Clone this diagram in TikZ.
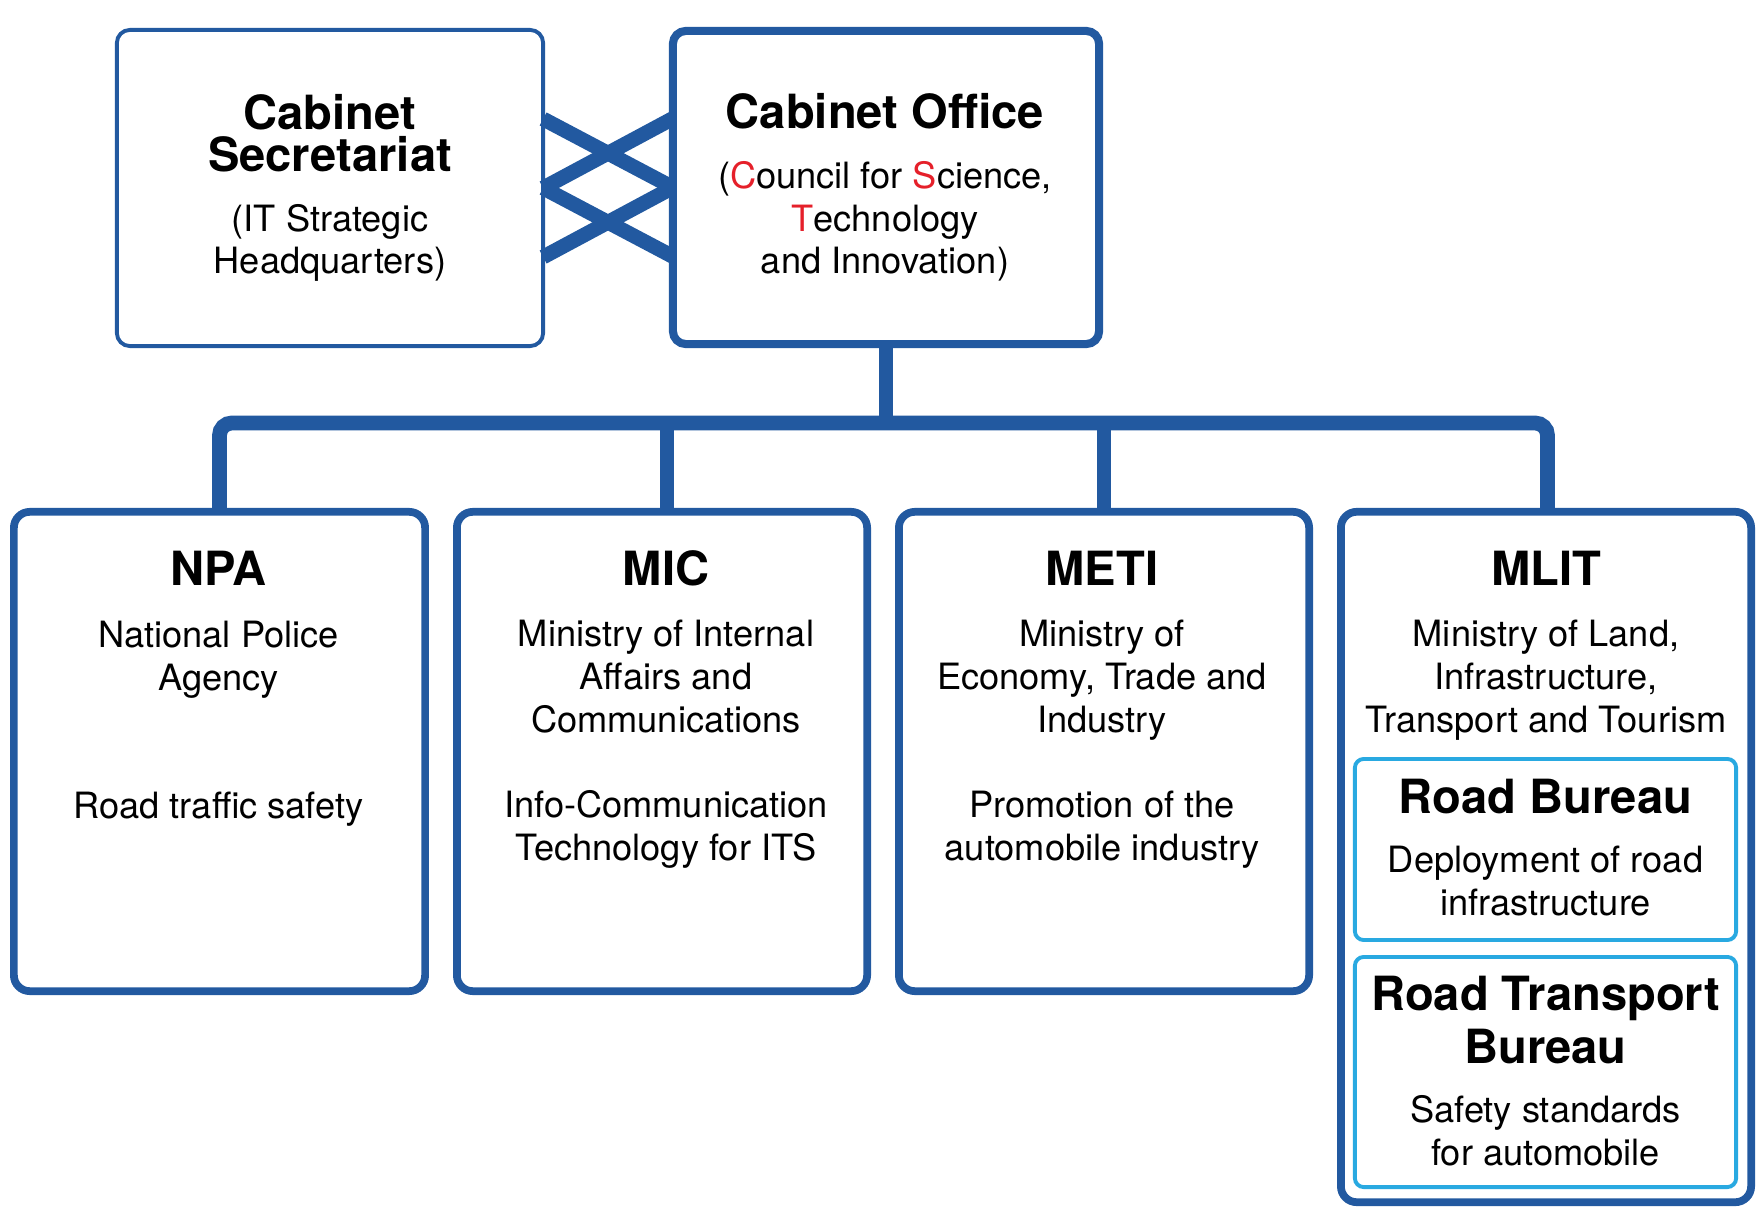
\documentclass[tikz,border=0pt]{standalone}
\usepackage{fontspec}
\setmainfont{TeX Gyre Heros}
\definecolor{itsblue}{HTML}{2259A0}
\definecolor{bureaublue}{HTML}{29A9E1}
\definecolor{itsred}{HTML}{E5202A}

\begin{document}
\begin{tikzpicture}[x=0.01cm, y=-0.01cm,
  office/.style={draw=itsblue, rounded corners=4.5pt, line width=2.2pt, outer sep=0pt},
  bureau/.style={draw=bureaublue, rounded corners=2.5pt, line width=1.1pt, outer sep=0pt},
  link/.style={draw=itsblue, line width=4.2pt},
  title/.style={font=\bfseries\fontsize{13.4}{12.2}\selectfont, anchor=base, align=center, inner sep=0pt},
  body/.style={font=\fontsize{10.3}{12.2}\selectfont, anchor=base, align=center, inner sep=0pt}]

\useasboundingbox (0,0) rectangle (1761,1222);

% Cabinet level (multi-line texts sit on their last baseline).

\node[office, line width=1.1pt, rounded corners=3.7pt, minimum width=4.26cm, minimum height=3.16cm] (cs) at (330,188) {};
\node[office, line width=2.3pt, rounded corners=3.7pt, minimum width=4.26cm, minimum height=3.13cm] (co) at (886,187.5) {};

\node[title] (cstitle) at (330,172) {Cabinet\\Secretariat};
\node[body] (cstext) at (330,274) {(IT Strategic\\Headquarters)};
\node[title] (cotitle) at (885,129) {Cabinet Office};
\node[body] (cotext) at (885,274) {(\textcolor{itsred}{C}ouncil for \textcolor{itsred}{S}cience,\\\textcolor{itsred}{T}echnology\\and Innovation)};

% Ministries.

\node[office, minimum width=4.11cm, minimum height=4.79cm] (npa) at (219.5,751.5) {};
\node[office, minimum width=4.10cm, minimum height=4.79cm] (mic) at (662,751.5) {};
\node[office, minimum width=4.10cm, minimum height=4.79cm] (meti) at (1104,751.5) {};
\node[office, minimum width=4.10cm, minimum height=6.90cm] (mlit) at (1546,857) {};
\node[bureau, minimum width=3.81cm, minimum height=1.81cm] (road) at (1545.5,849.5) {};
\node[bureau, minimum width=3.81cm, minimum height=2.30cm] (transport) at (1545.5,1072) {};

\node[title] (npatitle) at (218.5,586) {NPA};
\node[body] (npaname) at (218.5,690) {National Police\\Agency};
\node[body] (npatask) at (218.5,818) {Road traffic safety};

\node[title] (mictitle) at (666,586) {MIC};
\node[body] (micname) at (666,732) {Ministry of Internal\\Affairs and\\Communications};
\node[body] (mictask) at (666,860) {Info-Communication\\Technology for ITS};

\node[title] (metititle) at (1102,586) {METI};
\node[body] (metiname) at (1102,732) {Ministry of\\Economy, Trade and\\Industry};
\node[body] (metitask) at (1102,860) {Promotion of the\\automobile industry};

\node[title] (mlittitle) at (1546,586) {MLIT};
\node[body] (mlitname) at (1546,732) {Ministry of Land,\\Infrastructure,\\Transport and Tourism};

\node[title] (roadtitle) at (1545.5,813) {Road Bureau};
\node[body] (roadtask) at (1545.5,915) {Deployment of road\\infrastructure};
\node[title, font=\bfseries\fontsize{13.4}{15}\selectfont] (transporttitle) at (1545.5,1063) {Road Transport\\Bureau};
\node[body] (transporttask) at (1545.5,1165) {Safety standards\\for automobile};

% Links.

\draw[link] ([yshift=0.69cm]cs.east) -- (co.west);
\draw[link] (cs.east) -- ([yshift=0.69cm]co.west);
\draw[link] (cs.east) -- ([yshift=-0.69cm]co.west);
\draw[link] ([yshift=-0.69cm]cs.east) -- (co.west);

\coordinate (bar) at (885,423);
\draw[link] (co.south) -- (co.south |- bar);
\draw[link, rounded corners=3.5pt] (npa.north) |- (bar) -| ([xshift=0.015cm]mlit.north);
\draw[link] ([xshift=0.05cm]mic.north) -- ([xshift=0.05cm]mic.north |- bar);
\draw[link] (meti.north) -- (meti.north |- bar);

\end{tikzpicture}
\end{document}
